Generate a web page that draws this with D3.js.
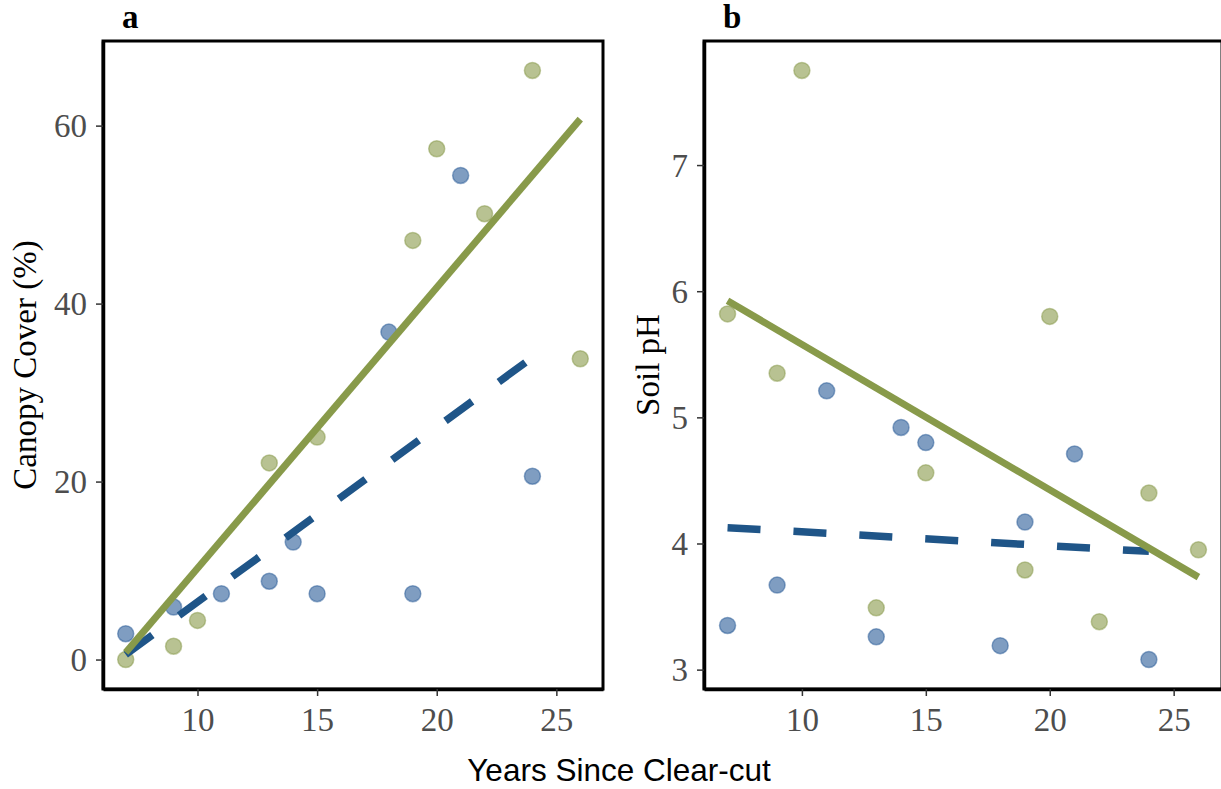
<!DOCTYPE html>
<html>
<head>
<meta charset="utf-8">
<script src="https://cdn.jsdelivr.net/npm/d3@7"></script>
<style>
  body { margin: 0; background: #fff; }
  svg { display: block; }
  .tick-label { font-family: "Liberation Serif", "Times New Roman", serif; font-size: 33px; fill: #4d4d4d; }
  .y-title { font-family: "Liberation Serif", "Times New Roman", serif; font-size: 33px; fill: #000; }
  .panel-tag { font-family: "Liberation Serif", "Times New Roman", serif; font-size: 33px; font-weight: bold; fill: #000; }
  .x-title { font-family: "Liberation Sans", Arial, sans-serif; font-size: 31.5px; fill: #000; }
</style>
</head>
<body>
<svg id="chart" width="1221" height="789"></svg>
<script>
// years since clear-cut for each site group
let yearsGreen = [7, 9, 10, 13, 15, 19, 20, 22, 24, 26];
let yearsBlue = [7, 9, 11, 13, 14, 15, 18, 19, 21, 24];

// panel a: canopy cover (%)
let canopyGreen = [0, 1.5, 4.4, 22.1, 25.0, 47.1, 57.4, 50.1, 66.2, 33.8];
let canopyBlue = [2.9, 5.9, 7.4, 8.8, 13.2, 7.4, 36.8, 7.4, 54.4, 20.6];

// panel b: soil pH
let phGreen = [5.82, 5.35, 7.75, 3.49, 4.56, 3.79, 5.80, 3.38, 4.40, 3.95];
let phBlue = [3.35, 3.67, 5.21, 3.26, 4.92, 4.80, 3.19, 4.17, 4.71, 3.08];

let ticksA = [0, 20, 40, 60];
let ticksB = [3, 4, 5, 6, 7];
let ticksX = [10, 15, 20, 25];

let greenLine = "#889a4a";
let blueLine = "#1f5588";
let greenPoint = "#889a4a";
let bluePoint = "#2a5c98";

let svg = d3.select("#chart");

let plotTop = 41, plotBottom = 689;

// ordinary least squares fit, used for the trend lines
function fit(xs, ys) {
  let mx = d3.mean(xs), my = d3.mean(ys);
  let sxy = d3.sum(xs, (x, i) => (x - mx) * (ys[i] - my));
  let sxx = d3.sum(xs, x => (x - mx) * (x - mx));
  let b = sxy / sxx;
  return x => my + b * (x - mx);
}

function expand(ext) {
  let pad = (ext[1] - ext[0]) * 0.05;
  return [ext[0] - pad, ext[1] + pad];
}

function panel(opts) {
  let g = svg.append("g");

  let x = d3.scaleLinear()
    .domain(expand(d3.extent(yearsGreen.concat(yearsBlue))))
    .range([opts.left, opts.right]);

  let y = d3.scaleLinear()
    .domain(expand(d3.extent(opts.green.concat(opts.blue))))
    .range([plotBottom, plotTop]);

  // points
  let groups = [
    { xs: yearsGreen, ys: opts.green, col: greenPoint },
    { xs: yearsBlue, ys: opts.blue, col: bluePoint }
  ];
  groups.forEach(function(grp) {
    g.append("g").selectAll("circle")
      .data(grp.xs.map((d, i) => [d, grp.ys[i]]))
      .enter().append("circle")
      .attr("cx", d => x(d[0]))
      .attr("cy", d => y(d[1]))
      .attr("r", 8)
      .attr("fill", grp.col)
      .attr("fill-opacity", 0.6)
      .attr("stroke", grp.col)
      .attr("stroke-opacity", 0.5)
      .attr("stroke-width", 1.5);
  });

  // trend lines, blue dashed under green solid
  let fb = fit(yearsBlue, opts.blue);
  let bx = d3.extent(yearsBlue);
  g.append("line")
    .attr("x1", x(bx[0])).attr("y1", y(fb(bx[0])))
    .attr("x2", x(bx[1])).attr("y2", y(fb(bx[1])))
    .attr("stroke", blueLine)
    .attr("stroke-width", 7.5)
    .attr("stroke-dasharray", "33,33");

  let fg = fit(yearsGreen, opts.green);
  let gx = d3.extent(yearsGreen);
  g.append("line")
    .attr("x1", x(gx[0])).attr("y1", y(fg(gx[0])))
    .attr("x2", x(gx[1])).attr("y2", y(fg(gx[1])))
    .attr("stroke", greenLine)
    .attr("stroke-width", 7);

  // frame
  g.append("rect")
    .attr("x", opts.left).attr("y", plotTop)
    .attr("width", opts.right - opts.left)
    .attr("height", plotBottom - plotTop)
    .attr("fill", "none")
    .attr("stroke", "#000")
    .attr("stroke-width", 3);

  // axes
  let yAxis = g.append("g")
    .attr("transform", "translate(" + opts.left + ",0)")
    .call(d3.axisLeft(y).tickValues(opts.ticks).tickSize(7).tickSizeOuter(0)
      .tickPadding(9).tickFormat(d3.format("d")));
  let xAxis = g.append("g")
    .attr("transform", "translate(0," + plotBottom + ")")
    .call(d3.axisBottom(x).tickValues(ticksX).tickSize(7).tickSizeOuter(0)
      .tickPadding(11).tickFormat(d3.format("d")));

  [xAxis, yAxis].forEach(function(ax) {
    ax.attr("font-size", null).attr("font-family", null);
    ax.select(".domain").attr("stroke", "#000").attr("stroke-width", 3.5);
    ax.selectAll(".tick line").attr("stroke", "#333").attr("stroke-width", 1.5);
    ax.selectAll(".tick text").attr("class", "tick-label").attr("fill", null);
  });
  yAxis.selectAll(".tick text").attr("dy", "0.34em");
  xAxis.selectAll(".tick text").attr("dy", "0.72em");

  // y title
  g.append("text")
    .attr("class", "y-title")
    .attr("transform", "translate(" + opts.titleX + "," + ((plotTop + plotBottom) / 2) + ") rotate(-90)")
    .attr("text-anchor", "middle")
    .text(opts.title);

  // panel tag
  g.append("text")
    .attr("class", "panel-tag")
    .attr("x", opts.left + 19)
    .attr("y", 28)
    .text(opts.tag);
}

panel({ left: 103, right: 603, green: canopyGreen, blue: canopyBlue, ticks: ticksA,
        title: "Canopy Cover (%)", titleX: 36, tag: "a" });
panel({ left: 704, right: 1222, green: phGreen, blue: phBlue, ticks: ticksB,
        title: "Soil pH", titleX: 659, tag: "b" });

svg.append("text")
  .attr("class", "x-title")
  .attr("x", 619)
  .attr("y", 781)
  .attr("text-anchor", "middle")
  .text("Years Since Clear-cut");
</script>
</body>
</html>
